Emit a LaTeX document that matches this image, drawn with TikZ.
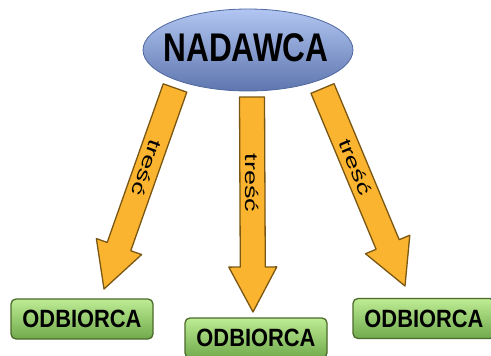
\documentclass[tikz,border=0pt]{standalone}
\usepackage{fontspec}
\setmainfont{Liberation Sans}
\usetikzlibrary{calc,shapes.geometric}
\definecolor{arrowfill}{HTML}{FBB430}
\definecolor{arrowline}{HTML}{7A5712}
\definecolor{elltop}{HTML}{B2C6F2}
\definecolor{ellbot}{HTML}{5E76AE}
\definecolor{ellline}{HTML}{5068A0}
\definecolor{boxtop}{HTML}{BEEC94}
\definecolor{boxbot}{HTML}{70AA4C}
\definecolor{boxline}{HTML}{4B6A2A}
\tikzset{
  blockarr/.style={fill=arrowfill,draw=arrowline,line width=1.3pt,line join=round},
  sender/.style={ellipse,minimum width=210pt,minimum height=82pt,inner sep=0pt,
    top color=elltop,bottom color=ellbot,draw=ellline,line width=0.8pt},
  receiver/.style={rectangle,rounded corners=5pt,minimum width=142pt,minimum height=40pt,inner sep=0pt,
    top color=boxtop,bottom color=boxbot,draw=boxline,line width=1.3pt},
  lbl/.style={inner sep=0pt,font=\fontsize{18}{18}\selectfont}
}
\newcommand\blockarrow[2]{%
  \coordinate (hb) at ($(#2)!45pt!(#1)$);
  \draw[blockarr] ($(#1)!12.5pt!90:(#2)$) -- ($(hb)!12.5pt!90:(#2)$) -- ($(hb)!24pt!90:(#2)$)
    -- (#2) -- ($(hb)!24pt!-90:(#2)$) -- ($(hb)!12.5pt!-90:(#2)$)
    -- ($(#1)!12.5pt!-90:(#2)$) -- cycle;%
}
\begin{document}
\begin{tikzpicture}[x=1pt,y=-1pt]
\clip (0,0) rectangle (491,356);
\fill[white] (0,0) rectangle (491,356);
% arrow ends
\coordinate (sL) at (175,88);
\coordinate (tL) at (104,289);
\coordinate (sM) at (252,97);
\coordinate (tM) at (253,312);
\coordinate (sR) at (322.5,88.5);
\coordinate (tR) at (405,286);
\blockarrow{sL}{tL}
\blockarrow{sM}{tM}
\blockarrow{sR}{tR}
% labels
\node[lbl,rotate=-109.6] (l1) at (147,168) {\scalebox{1.5}[1]{treść}};
\node[lbl,rotate=-90] (l2) at (252.5,183) {\scalebox{1.5}[1]{treść}};
\node[lbl,rotate=-67.2] (l3) at (355.5,167) {\scalebox{1.5}[1]{treść}};
% sender
\node[sender] (nadawca) at (248,50) {};
\node[inner sep=0pt,font=\bfseries\fontsize{40}{40}\selectfont] (nadtxt) at (246,47.5) {\scalebox{0.79}[1]{NADAWCA}};
% receivers
\node[receiver] (odb1) at (82,319) {\scalebox{0.875}[1]{\bfseries\fontsize{25}{25}\selectfont ODBIORCA}};
\node[receiver] (odb2) at (256,338) {\scalebox{0.875}[1]{\bfseries\fontsize{25}{25}\selectfont ODBIORCA}};
\node[receiver] (odb3) at (424,318.5) {\scalebox{0.875}[1]{\bfseries\fontsize{25}{25}\selectfont ODBIORCA}};
\end{tikzpicture}
\end{document}
